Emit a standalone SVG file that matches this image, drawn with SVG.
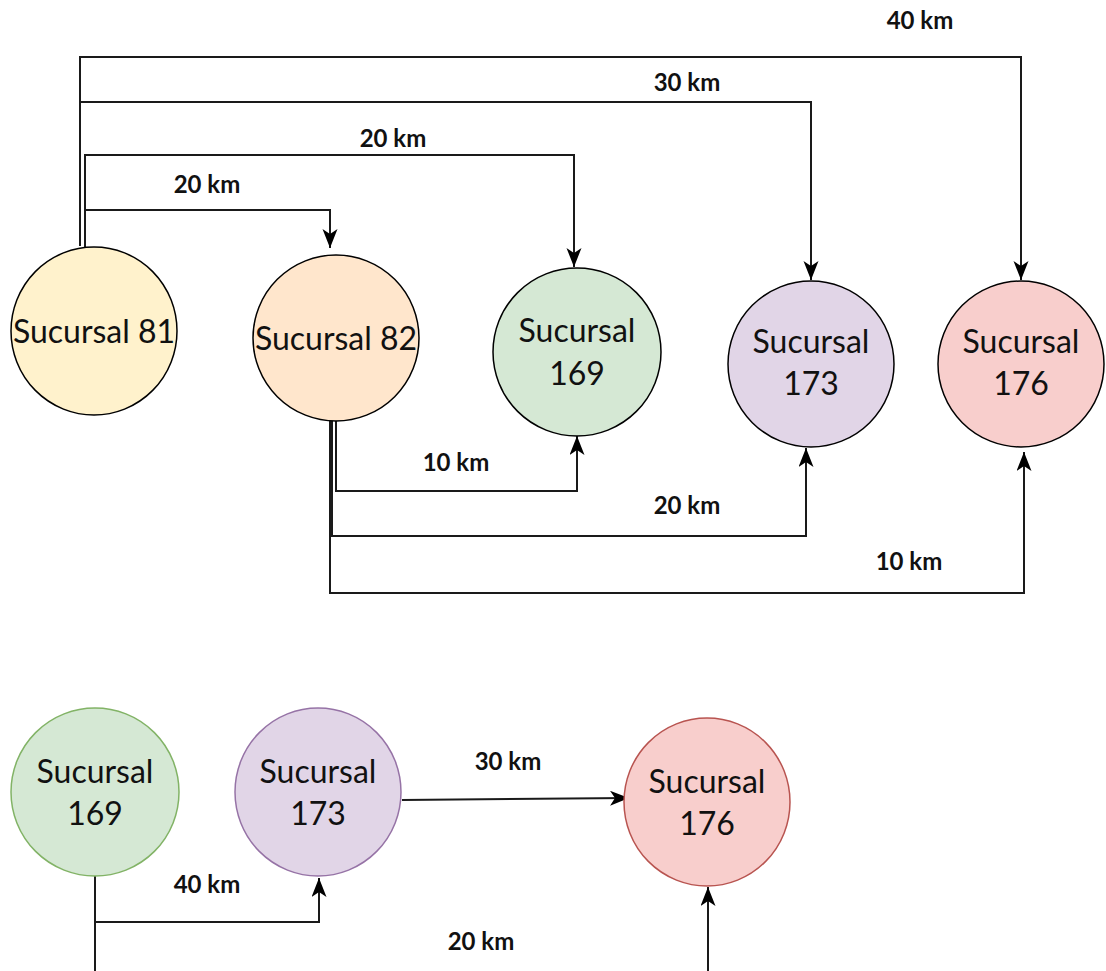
<svg xmlns="http://www.w3.org/2000/svg" width="1106" height="971" viewBox="0 0 1106 971">
<style>
.node{stroke:#000;stroke-width:1.5}
.nt{font-family:Lato,"Liberation Sans",sans-serif;font-size:32px;fill:#111;text-anchor:middle}
.el{font-family:Lato,"Liberation Sans",sans-serif;font-size:24px;font-weight:bold;fill:#111;text-anchor:middle}
.c{fill:none;stroke:#1a1a1a;stroke-width:2}
</style>
<defs>
<marker id="arr" markerUnits="userSpaceOnUse" markerWidth="20" markerHeight="16" refX="19" refY="7.5" orient="auto" viewBox="0 0 20 16">
<path d="M0,0 L19,7.5 L0,15 L5,7.5 z" fill="#000"/>
</marker>
</defs>
<rect width="1106" height="971" fill="#fff"/>
<g id="connectors">
<path class="c" d="M80,246 V57 H1021 V280" marker-end="url(#arr)"/>
<path class="c" d="M80,246 V102 H811 V280" marker-end="url(#arr)"/>
<path class="c" d="M85,248 V155 H574 V267" marker-end="url(#arr)"/>
<path class="c" d="M85,248 V210 H330 V248" marker-end="url(#arr)"/>
<path class="c" d="M336,418 V491 H577 V436" marker-end="url(#arr)"/>
<path class="c" d="M332,420 V536 H806 V448" marker-end="url(#arr)"/>
<path class="c" d="M330,420 V593 H1024 V452" marker-end="url(#arr)"/>
<path class="c" d="M402,800 L629,798" marker-end="url(#arr)"/>
<path class="c" d="M95,876 V971"/>
<path class="c" d="M95,876 V922 H319 V878" marker-end="url(#arr)"/>
<path class="c" d="M708,971 V887" marker-end="url(#arr)"/>
<text class="el" x="920" y="29">40 km</text>
<text class="el" x="687" y="91">30 km</text>
<text class="el" x="393" y="147">20 km</text>
<text class="el" x="207" y="193">20 km</text>
<text class="el" x="456" y="471">10 km</text>
<text class="el" x="687" y="514">20 km</text>
<text class="el" x="909" y="570">10 km</text>
<text class="el" x="508" y="770">30 km</text>
<text class="el" x="207" y="893">40 km</text>
<text class="el" x="481" y="950">20 km</text>
</g>
<g id="n81">
<ellipse class="node" cx="94" cy="331" rx="83" ry="84" fill="#fff2cc"/>
<text class="nt" x="94" y="343">Sucursal 81</text>
</g>
<g id="n82">
<ellipse class="node" cx="336" cy="338" rx="83" ry="83" fill="#ffe6cc"/>
<text class="nt" x="336" y="350">Sucursal 82</text>
</g>
<g id="n169">
<ellipse class="node" cx="577" cy="352" rx="84" ry="84" fill="#d5e8d4"/>
<text class="nt" x="577" y="342">Sucursal</text>
<text class="nt" x="577" y="385">169</text>
</g>
<g id="n173">
<ellipse class="node" cx="811" cy="364" rx="83" ry="83" fill="#e1d5e7"/>
<text class="nt" x="811" y="353">Sucursal</text>
<text class="nt" x="811" y="395">173</text>
</g>
<g id="n176">
<ellipse class="node" cx="1021" cy="364" rx="83" ry="83" fill="#f8cecc"/>
<text class="nt" x="1021" y="353">Sucursal</text>
<text class="nt" x="1021" y="395">176</text>
</g>
<g id="b169">
<ellipse cx="95" cy="792" rx="84" ry="84" fill="#d5e8d4" stroke="#82b366" stroke-width="1.5"/>
<text class="nt" x="95" y="783">Sucursal</text>
<text class="nt" x="95" y="825">169</text>
</g>
<g id="b173">
<ellipse cx="318" cy="792" rx="83" ry="84" fill="#e1d5e7" stroke="#9673a6" stroke-width="1.5"/>
<text class="nt" x="318" y="783">Sucursal</text>
<text class="nt" x="318" y="825">173</text>
</g>
<g id="b176">
<ellipse cx="707" cy="802" rx="83" ry="84" fill="#f8cecc" stroke="#b85450" stroke-width="1.5"/>
<text class="nt" x="707" y="793">Sucursal</text>
<text class="nt" x="707" y="835">176</text>
</g>
</svg>
